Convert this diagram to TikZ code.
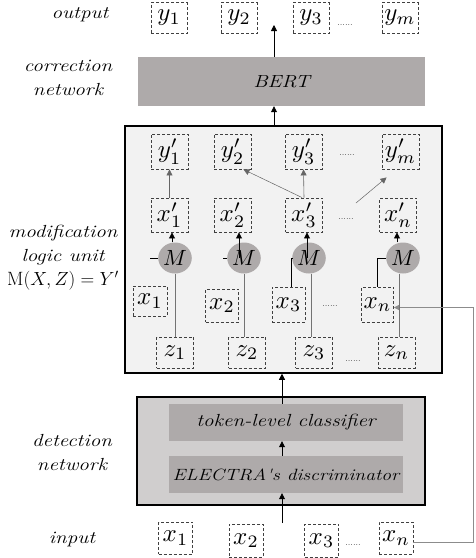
\documentclass[tikz,border=0pt]{standalone}
\usepackage{fontspec}
\usetikzlibrary{arrows.meta,calc,shapes.geometric}
\newfontfamily\lblfont{Latin Modern Roman}[FakeStretch=1.2]
\definecolor{boxgray}{HTML}{AEAAAA}
\definecolor{modfill}{HTML}{F2F2F2}
\definecolor{detfill}{HTML}{D0CECE}
\definecolor{dashcol}{HTML}{404040}
\newcommand\mth[1]{\scalebox{2.5}{$#1$}}
\newcommand\lfont{\lblfont\itshape\fontsize{17.5}{24}\selectfont}
\newcommand\gfont{\lblfont\itshape\fontsize{16.3}{20}\selectfont}
\begin{document}
\begin{tikzpicture}[x=1pt,y=-1pt,
  dbox/.style={draw=dashcol, dash pattern=on 3pt off 2pt, line width=0.9pt, inner sep=0pt,
               minimum width=36pt, minimum height=32pt, font=\fontsize{10}{12}\selectfont},
  lbl/.style={font=\lfont, align=center, inner sep=0pt},
  graybox/.style={fill=boxgray, inner sep=0pt, font=\gfont},
  mnode/.style={ellipse, fill=boxgray, minimum width=28pt, minimum height=31pt, inner sep=0pt, font=\fontsize{10}{12}\selectfont},
  dots/.style={inner sep=0pt, font=\fontsize{9}{10}\selectfont},
  arr/.style={-{Triangle[length=6pt,width=6pt]}, line width=0.8pt, black},
  garr/.style={-{Triangle[length=6pt,width=6pt]}, line width=0.6pt, black!60},
  thinl/.style={line width=0.6pt, black!55},
  blk/.style={line width=0.7pt, black},
]
\useasboundingbox (0,0) rectangle (476,558);

% ---- labels
\node[lbl] (lout) at (80,15) {output};
\node[lbl] (lcor) at (68,78) {correction\\network};
\node[lbl] (lmod) at (63,258) {modification\\logic unit\\\scalebox{1.1}{$\mathrm{M}(X,Z)=Y'$}};
\node[lbl] (ldet) at (72,453) {detection\\network};
\node[lbl] (lin) at (72,540) {input};

% ---- big boxes
\node[draw=black, line width=1.5pt, fill=modfill, minimum width=317pt, minimum height=247pt, inner sep=0pt] (mod) at (283.5,249.5) {};
\node[draw=black, line width=1.5pt, fill=detfill, minimum width=288pt, minimum height=108pt, inner sep=0pt] (det) at (281,451) {};
\node[graybox, minimum width=287pt, minimum height=49pt, font=\lfont] (bert) at (281.5,81.5) {BERT};
\node[graybox, minimum width=234pt, minimum height=37pt, font=\lblfont\itshape\fontsize{17.5}{20}\selectfont] (tok) at (286,422.5) {token-level classifier};
\node[graybox, minimum width=234pt, minimum height=37pt] (elec) at (286,474.5) {ELECTRA's discriminator};

% ---- output row
\node[dbox, minimum height=31pt] (y1) at (169,18) {\mth{y_1}};
\node[dbox, minimum height=31pt] (y2) at (239,18) {\mth{y_2}};
\node[dbox, minimum height=31pt] (y3) at (311,18) {\mth{y_3}};
\node[dbox, minimum height=31pt] (ym) at (400,18) {\mth{y_m}};
\node[dots] (dy) at (345,25) {......};

% ---- y' row
\node[dbox, minimum width=37pt, minimum height=35pt] (yp1) at (169.5,151.5) {\mth{y'_1}};
\node[dbox, minimum width=37pt, minimum height=35pt] (yp2) at (232.5,151.5) {\mth{y'_2}};
\node[dbox, minimum width=37pt, minimum height=35pt] (yp3) at (303.5,151.5) {\mth{y'_3}};
\node[dbox, minimum width=37pt, minimum height=35pt] (ypm) at (400.5,151.5) {\mth{y'_m}};
\node[dots] (dyp) at (347,155) {......};

% ---- x' row
\node[dbox, minimum width=37pt, minimum height=34pt] (xp1) at (169.5,215) {\mth{x'_1}};
\node[dbox, minimum width=37pt, minimum height=34pt] (xp2) at (232.5,215) {\mth{x'_2}};
\node[dbox, minimum width=37pt, minimum height=34pt] (xp3) at (304,215) {\mth{x'_3}};
\node[dbox, minimum width=37pt, minimum height=34pt] (xpn) at (398,215) {\mth{x'_n}};
\node[dots] (dxp) at (346,219) {......};

% ---- M nodes
\node[mnode] (m1) at (175,258) {\scalebox{2.2}{$M$}};
\node[mnode] (m2) at (244,258) {\scalebox{2.2}{$M$}};
\node[mnode] (m3) at (309,258) {\scalebox{2.2}{$M$}};
\node[mnode] (m4) at (403,258) {\scalebox{2.2}{$M$}};

% ---- x row (inside)
\node[dbox, minimum width=34pt, minimum height=30pt] (x1) at (150,301) {\mth{x_1}};
\node[dbox, minimum width=33pt, minimum height=33pt] (x2) at (222,305.5) {\mth{x_2}};
\node[dbox, minimum width=33pt, minimum height=35pt] (x3) at (288.5,304.5) {\mth{x_3}};
\node[dbox, minimum width=32pt, minimum height=35pt] (xn) at (377.5,304.5) {\mth{x_n}};
\node[dots] (dx) at (330,306) {......};

% ---- z row
\node[dbox, minimum width=37pt, minimum height=31pt] (z1) at (175,352.5) {\mth{z_1}};
\node[dbox, minimum width=37pt, minimum height=31pt] (z2) at (247,352.5) {\mth{z_2}};
\node[dbox, minimum width=37pt, minimum height=31pt] (z3) at (314,352.5) {\mth{z_3}};
\node[dbox, minimum width=37pt, minimum height=31pt] (zn) at (396.5,352.5) {\mth{z_n}};
\node[dots] (dz) at (353,361) {......};

% ---- input row
\node[dbox, minimum width=34pt, minimum height=32pt] (i1) at (175.5,538) {\mth{x_1}};
\node[dbox, minimum width=34pt, minimum height=33pt] (i2) at (246,540.5) {\mth{x_2}};
\node[dbox, minimum width=34pt, minimum height=33pt] (i3) at (321.5,540.5) {\mth{x_3}};
\node[dbox, minimum width=34pt, minimum height=32pt] (in) at (396,538) {\mth{x_n}};
\node[dots] (di) at (353,545) {......};

% ---- coordinates
\coordinate (outtip) at (274,25);
\coordinate (inp) at (282,523);
\coordinate (fb) at (473,542);
\coordinate (dstart) at (356,203);

% ---- main flow arrows
\draw[arr] (bert.north -| outtip) -- (outtip);
\draw[arr] (mod.north -| outtip) -- (bert.south -| outtip);
\draw[arr] (inp) -- (inp |- elec.south);
\draw[arr] (elec.north -| inp) -- (inp |- tok.south);
\draw[arr] (tok.north -| inp) -- (inp |- mod.south);

% ---- feedback line
\draw[garr, line width=0.8pt, black!45] (in.east |- fb) -- (fb) |- ([yshift=-3pt]xn.east);

% ---- inside modification unit
\draw[garr] (xp1.north) -- (yp1.south);
\draw[garr] (xp3.north) -- (yp3.south);
\draw[garr, line width=0.5pt] ([xshift=-2pt]xp3.north) -- ([xshift=-8pt]yp2.south east);
\draw[garr, line width=0.5pt] (dstart) -- ([shift={(5,8)}]ypm.south west);

% M -> z lines
\draw[thinl] (m1.south) -- (m1.south |- z1.north);
\draw[thinl] (m2.south) -- (m2.south |- z2.north);
\draw[thinl] ([xshift=2pt]m3.south) -- ([xshift=2pt]m3.south |- z3.north);
\draw[thinl] ([xshift=-4pt]m4.south) -- ([xshift=-4pt]m4.south |- zn.north);

% x -> M
\draw[blk] ([xshift=-8pt]m1.west) -- (m1.west);
\draw[blk] ([xshift=-4pt]m2.west) -- (m2.west);
\draw[blk] ([xshift=3pt]x3.north) |- (m3.west);
\draw[blk] (xn.north) |- (m4.west);

% M -> x'
\draw[arr] ([xshift=-3pt]m1.north) -- ([xshift=-3pt]m1.north |- xp1.south);
\draw[arr] ([xshift=-5pt]m2.center) -- ([xshift=-5pt]m2.center |- xp2.south);
\draw[arr] ([xshift=-2pt]m3.center) -- ([xshift=-2pt]m3.center |- xp3.south);
\draw[arr] ([xshift=-6pt]m4.north) -- ([xshift=-6pt]m4.north |- xpn.south);
\end{tikzpicture}
\end{document}
